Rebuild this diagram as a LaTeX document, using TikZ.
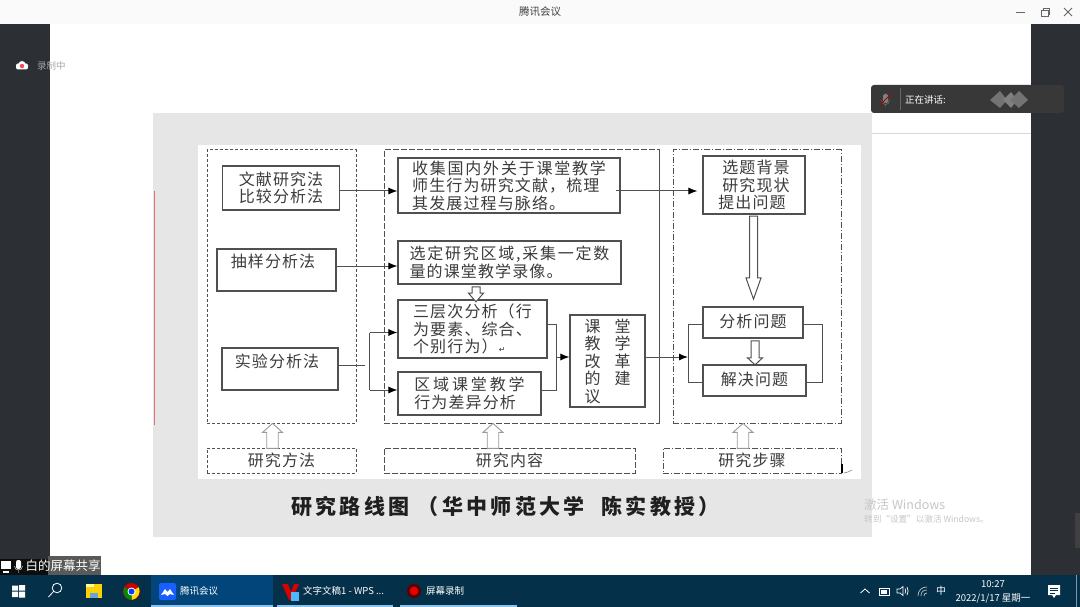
\documentclass[tikz,border=0pt]{standalone}
\usepackage{fontspec}
\setmainfont{Noto Sans CJK SC}
\newfontfamily\symfont{DejaVu Sans}
\usetikzlibrary{arrows.meta}
\usetikzlibrary{positioning}
\usetikzlibrary{shapes.arrows,shapes.geometric}
\definecolor{sidedark}{HTML}{2C2F33}
\definecolor{taskbar}{HTML}{04304A}
\definecolor{taskactive}{HTML}{02457A}
\definecolor{taskline}{HTML}{8BC4EA}
\definecolor{slidegray}{HTML}{E6E6E6}
\definecolor{inkgray}{HTML}{3C3C3C}
\definecolor{edgegray}{HTML}{505050}
\definecolor{slidered}{HTML}{E07070}
\definecolor{recred}{HTML}{F0504F}
\newcommand{\pxfont}[1]{\fontsize{#1}{#1}\selectfont}
\tikzset{
  stepbox/.style={draw=edgegray, line width=1.1pt, fill=white, text=inkgray, align=left, inner sep=0pt, font=\fontsize{16}{17.5}\selectfont\addfontfeature{LetterSpace=7}},
  panel/.style={draw=edgegray, line width=1pt, inner sep=0pt, text=inkgray, font=\fontsize{16}{17.5}\selectfont\addfontfeature{LetterSpace=7}},
  flowarrow/.style={-{Latex[length=9pt,width=7pt,black]}, line width=1pt, draw=edgegray},
  flowline/.style={line width=1pt, draw=edgegray},
  hollowdown/.style={single arrow, draw=edgegray, line width=1pt, fill=white, inner sep=3.5pt, shape border rotate=270, single arrow head extend=3.5pt, single arrow head indent=0pt},
  hollowup/.style={single arrow, draw=gray!80, line width=.9pt, fill=white, inner sep=5pt, minimum width=20pt, minimum height=25pt, yshift=-3pt, shape border rotate=90, single arrow head extend=4pt, single arrow head indent=0pt, single arrow tip angle=96},
  uitext/.style={inner sep=0pt, text=white, font=\pxfont{9.5}},
}
\begin{document}
\begin{tikzpicture}[x=1pt,y=-1pt]
\useasboundingbox (0,0) rectangle (1080,607);
\fill[white] (0,0) rectangle (1080,607);
\fill[black!2] (0,0) rectangle (1080,24);
\fill[sidedark] (0,24) rectangle (50,575);
\fill[sidedark] (1031,24) rectangle (1080,575);
\fill[black!75] (1075,513) rectangle (1080,548);
\draw[black!15] (872,133.5) -- (1031,133.5);
\fill[slidegray] (153,113) rectangle (872,537);
\fill[white] (198,145) rectangle (861,479);
\draw[slidered, line width=1pt] (154,191) -- (154,425);

\node[text=black!75, inner sep=0pt, font=\pxfont{10.5}] (apptitle) at (540,12) {腾讯会议};
\draw[black!60, line width=.8pt] (1016,12) -- (1025,12);
\draw[black!60, line width=.8pt] (1041,10) rectangle (1048,16) (1043,10) -- (1043,8) -- (1049.5,8) -- (1049.5,14) -- (1048,14);
\draw[black!60, line width=.8pt] (1064,8) -- (1072,16) (1072,8) -- (1064,16);

\fill[white, rounded corners=2pt] (16,63.5) rectangle (28,69.5);
\fill[white] (22,64.5) circle (3.5);
\fill[recred] (22,66) circle (2.2);
\node[text=black!35, inner sep=0pt, font=\pxfont{9.5}] (recstate) at (51.5,66) {录制中};

\fill[black!78, rounded corners=3pt] (871,85) rectangle (1064,113);
\draw[black!60] (900.5,88) -- (900.5,110);
\fill[black!50, rounded corners=1.5pt] (883,94) rectangle (888,103);
\draw[black!50] (881.5,100) .. controls (881.5,106) and (889.5,106) .. (889.5,100) (885.5,104.5) -- (885.5,107);
\draw[red!70!black, line width=.8pt] (880,105) -- (891,94);
\node[uitext, font=\pxfont{9.5}] (speaking) at (925.5,100) {正在讲话:};
\fill[black!55] (990,100) -- (1000,91) -- (1007,100) -- (1000,108) -- cycle;
\fill[black!50] (1003,100) -- (1011,92) -- (1017,100) -- (1011,108) -- cycle;
\fill[black!55] (1010,100) -- (1019,91) -- (1028,100) -- (1019,108) -- cycle;

\node[panel, dash pattern=on 3pt off 2pt, minimum width=149pt, minimum height=273pt] (methodpanel) at (281.5,286.5) {};
\node[panel, dash pattern=on 6pt off 2pt, minimum width=275pt, minimum height=273pt] (contentpanel) at (521.5,286.5) {};
\node[panel, dash pattern=on 6pt off 2pt on 1pt off 2pt, minimum width=168pt, minimum height=273pt] (stagepanel) at (757,286.5) {};
\draw[edgegray, line width=1.2pt] (contentpanel.north east) -- (contentpanel.south east);

\node[panel, dash pattern=on 3pt off 2pt, minimum width=149pt, minimum height=25pt] (methodlabel) at (281.5,460.5) {研究方法};
\node[panel, dash pattern=on 6pt off 2pt, minimum width=251pt, minimum height=25pt] (contentlabel) at (509.5,460.5) {研究内容};
\node[panel, dash pattern=on 6pt off 2pt on 1pt off 2pt, minimum width=178pt, minimum height=25pt] (stagelabel) at (752,460.5) {研究步骤};

\node[stepbox, minimum width=117.5pt, minimum height=44pt] (litbox) at (281,188) {文献研究法\\比较分析法};
\node[stepbox, minimum width=119pt, minimum height=42pt] (samplebox) at (276.5,270) {抽样分析法\hspace*{7pt}\\\mbox{}};
\node[stepbox, minimum width=116pt, minimum height=42pt] (expbox) at (280,369) {实验分析法\hspace*{6pt}\\\mbox{}};

\node[stepbox, minimum width=222pt, minimum height=55pt] (collectbox) at (509,185.5) {\addfontfeature{LetterSpace=11}收集国内外关于课堂教学\\师生行为研究文献，梳理\\其发展过程与脉络。};
\node[stepbox, minimum width=223pt, minimum height=43pt] (selectbox) at (509.5,262.5) {\addfontfeature{LetterSpace=11}选定研究区域,采集一定数\\量的课堂教学录像。};
\node[stepbox, minimum width=149pt, minimum height=58pt] (levelbox) at (472.5,329) {三层次分析（行\\为要素、综合、\\个别行为）{\symfont\pxfont{8}\,↵}};
\node[stepbox, minimum width=143pt, minimum height=43pt] (regionbox) at (469.5,393.5) {{\addfontfeature{LetterSpace=18}区域课堂教学}\\行为差异分析};
\node[stepbox, minimum width=75pt, minimum height=92pt] (reformbox) at (607.5,361) {课\hspace{14pt}堂\\教\hspace{14pt}学\\改\hspace{14pt}革\\的\hspace{14pt}建\\议};

\node[stepbox, minimum width=102pt, minimum height=58pt] (topicbox) at (754,185) {\hspace*{4pt}选题背景\\\hspace*{4pt}研究现状\\提出问题};
\node[stepbox, minimum width=100pt, minimum height=31pt] (analysebox) at (753,322.5) {\raisebox{3pt}{分析问题}};
\node[stepbox, minimum width=103pt, minimum height=31pt] (solvebox) at (754.5,380.5) {\raisebox{3pt}{解决问题}};

\draw[flowarrow] ([yshift=-3pt]litbox.east) -- ([yshift=-3pt]litbox.east -| collectbox.west);
\draw[flowarrow] ([yshift=4pt]samplebox.east) -- ([yshift=4pt]samplebox.east -| selectbox.west);
\draw[flowarrow] ([xshift=-5pt,yshift=-5.5pt]collectbox.east) -- ([xshift=-5pt,yshift=-5.5pt]collectbox.east -| topicbox.west);

\coordinate (expstub) at (365,365);
\coordinate (forktop) at (369.5,332.5);
\coordinate (forkbot) at (369.5,390);
\draw[flowline] (expbox.east |- expstub) -- (expstub);
\draw[flowline] (forktop) -- (forkbot);
\draw[flowarrow] (forktop) -- (forktop -| levelbox.west);
\draw[flowarrow] (forkbot) -- (forkbot -| regionbox.west);

\coordinate (mergetop) at (556,324);
\coordinate (mergebot) at (556,390);
\coordinate (mergemid) at (556,357);
\draw[flowline] (mergetop -| levelbox.east) -- (mergetop) -- (mergebot) -- (mergebot -| regionbox.east);
\draw[flowarrow] (mergemid) -- (mergemid -| reformbox.west);

\coordinate (stagemid) at (688,357);
\coordinate (looptop) at (688,324);
\coordinate (loopbot) at (688,382);
\coordinate (backtop) at (822,324);
\coordinate (backbot) at (822,382);
\draw[flowarrow] (stagemid -| reformbox.east) -- (stagemid);
\draw[flowline] (looptop -| analysebox.west) -- (looptop) -- (loopbot) -- (loopbot -| solvebox.west);
\draw[flowline] (backtop -| analysebox.east) -- (backtop) -- (backbot) -- (backbot -| solvebox.east);

\path ([xshift=-33.5pt]selectbox.south) -- node[hollowdown, inner sep=3.5pt, minimum width=14pt, minimum height=15pt, single arrow tip angle=82] (selectarrow) {} ([xshift=3.5pt]levelbox.north);
\path ([yshift=-2pt]topicbox.south) -- node[hollowdown, yshift=5.5pt, minimum width=15pt, minimum height=83pt, single arrow tip angle=39] (topicarrow) {} ([yshift=8pt]analysebox.north);
\path ([xshift=2pt,yshift=-3pt]analysebox.south) -- node[hollowdown, yshift=2pt, minimum width=15pt, minimum height=24pt, single arrow tip angle=94] (analysearrow) {} ([xshift=.5pt]solvebox.north);

\path ([xshift=-9pt]methodlabel.north) -- node[hollowup] (methodarrow) {} ([xshift=-9pt]methodpanel.south);
\path ([xshift=-16.5pt]contentlabel.north) -- node[hollowup] (contentarrow) {} ([xshift=-28.5pt]contentpanel.south);
\path ([xshift=-9pt]stagelabel.north) -- node[hollowup] (stagearrow) {} ([xshift=-14pt]stagepanel.south);

\draw[black, line width=2.5pt] (842,464) -- (842,473);
\draw[gray, line width=.6pt] (844,473) to[out=0,in=200] (852,470);

\node[inner sep=0pt, text=black!88, font=\bfseries\pxfont{21}] (charttitle) at (505.5,506) {\addfontfeature{LetterSpace=16}研究路线图 （华中师范大学\ \ 陈实教授）};

\node[inner sep=0pt, anchor=west, text=black!22, font=\pxfont{12.5}] (activatehead) at (864,505) {激活 Windows};
\node[inner sep=0pt, anchor=west, text=black!22, font=\pxfont{8.6}] (activatenote) at (864,519) {转到“设置”以激活 Windows。};

\fill[taskbar] (0,575) rectangle (1080,607);
\fill[taskactive] (151,575) rectangle (273,607);
\fill[taskline] (151,605) rectangle (273,607);
\fill[taskline] (277,605) rectangle (393,607);
\fill[taskline] (400,605) rectangle (517,607);
\fill[black!95] (0,559) rectangle (48,575);
\fill[black!65] (48,556) rectangle (101,575);
\fill[white] (1,561) rectangle (11,569);
\fill[white] (3,571) rectangle (9,572.5);
\fill[white, rounded corners=2pt] (16,560) rectangle (21,569);
\draw[white] (14.5,566) .. controls (14.5,571.5) and (22.5,571.5) .. (22.5,566) (18.5,570) -- (18.5,573);
\node[inner sep=0pt, anchor=west, text=white, font=\pxfont{12.5}] (sharelabel) at (25.5,566) {白的屏幕共享};

\fill[white] (12,585.5) rectangle (18,590.5) (19,585) rectangle (25,590.5) (12,591.5) rectangle (18,597) (19,591.5) rectangle (25,597.5);
\draw[white, line width=.8pt] (57,588) circle (4.8) (53.5,591.5) -- (48.5,597);
\fill[yellow!70!orange] (86,584) rectangle (102,598);
\fill[cyan!60!blue!60] (90,593) rectangle (98,598);
\fill[yellow!35] (86,584) rectangle (94,587);
\fill[red!80!black] (131.5,591.5) circle (8.5);
\fill[yellow!80!orange] (131.5,591.5) -- (138.9,587.2) .. controls (141,593) and (138,599) .. (131.5,600) -- cycle;
\fill[green!55!black] (131.5,591.5) -- (131.5,600) .. controls (126,600) and (121.5,593) .. (124.1,587.2) -- cycle;
\fill[white] (131.5,591.5) circle (4);
\fill[blue!75!cyan] (131.5,591.5) circle (3);
\fill[blue!70!cyan!90, rounded corners=2pt] (159,583) rectangle (176,600);
\fill[white] (161,595) -- (165,589) -- (167.5,592) -- (170,589) -- (174,595) -- (170,594) -- (167.5,596) -- (165,594) -- cycle;
\node[uitext, anchor=west] (taskmeeting) at (180,591) {腾讯会议};
\fill[red!85!black] (282,584) -- (288,584) -- (291,592) -- (294,584) -- (299,584) -- (292,600) -- (289,600) -- cycle;
\fill[blue!40!cyan!70] (291,592) rectangle (299,601);
\node[uitext, anchor=west] (taskwps) at (303,591) {文字文稿1 - WPS ...};
\fill[red!35!black] (414,591) circle (7);
\fill[red!90!black] (414,591) circle (4.5);
\node[uitext, anchor=west] (taskrec) at (426,591) {屏幕录制};

\draw[white, line width=.8pt] (860.5,593) -- (865,589) -- (869.5,593);
\draw[white, line width=.7pt] (879,588) rectangle (889,595);
\fill[white] (881,589.5) rectangle (887,593.5);
\draw[white, line width=.7pt] (897,589) -- (900,589) -- (903,586.5) -- (903,595.5) -- (900,593) -- (897,593) -- cycle (905,588.5) .. controls (906,590) and (906,592) .. (905,593.5) (907,587) .. controls (908.5,589.5) and (908.5,592.5) .. (907,595);
\draw[black!25, line width=.7pt] (918,596) .. controls (918,590) and (922,587) .. (927,587) (921,596) .. controls (921,592) and (923,590) .. (927,590) (924,596) .. controls (924,594) and (925,593) .. (927,593);
\node[uitext, font=\pxfont{10}] (inputmode) at (941,591) {中};
\node[uitext, font=\pxfont{9.5}] (clocktime) at (993,584) {10:27};
\node[uitext, font=\pxfont{9.5}] (clockdate) at (993,598.5) {2022/1/17 星期一};
\fill[white] (1048,585) rectangle (1060,595) (1052,595) -- (1056,595) -- (1054,598) -- cycle;
\draw[taskbar, line width=.7pt] (1050,588) -- (1058,588) (1050,590.5) -- (1058,590.5) (1050,593) -- (1055,593);
\draw[white!50!taskbar] (1076.5,575) -- (1076.5,607);
\end{tikzpicture}
\end{document}
